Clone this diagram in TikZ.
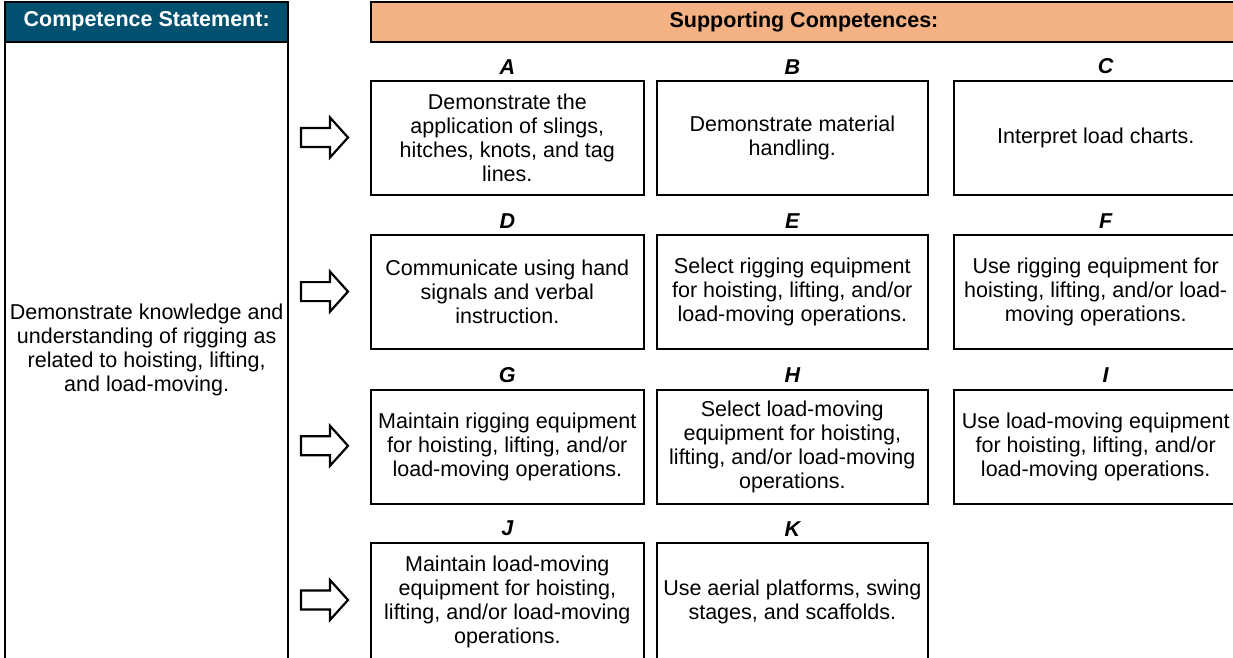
\documentclass[tikz,border=0pt]{standalone}
\usepackage{fontspec}
\setmainfont{Liberation Sans}
\definecolor{headteal}{RGB}{0,80,112}
\definecolor{headorange}{RGB}{244,177,131}
\tikzset{
  cbox/.style={draw, line width=2pt, minimum height=114pt, align=center, inner sep=0pt,
    font=\fontsize{21.5}{24}\selectfont},
  letter/.style={font=\fontsize{21.5}{24}\selectfont\bfseries\itshape, inner sep=2pt, label distance=4pt},
  headbar/.style={draw, line width=2pt, minimum height=40pt, inner sep=0pt,
    font=\fontsize{21.5}{24}\selectfont\bfseries},
  blockarr/.style={draw, line width=2.2pt, miter limit=10}
}
\begin{document}
\begin{tikzpicture}[x=1pt,y=-1pt]
                \useasboundingbox (0,0) rectangle (1233,657);
                \draw[line width=2pt] (5,1.5) rectangle (288.3,680);
                \node[headbar, fill=headteal, text=white, minimum width=283.3pt] (stmthead) at (146.65,21.5) {Competence Statement:};
                \node[align=center, font=\fontsize{21.5}{24}\selectfont] (stmt) at (146.65,350) {Demonstrate knowledge and\\understanding of rigging as\\related to hoisting, lifting,\\and load-moving.};
                \node[headbar, fill=headorange, minimum width=866pt] (supphead) at (804,21.5) {Supporting Competences:};
                \node[cbox, minimum width=272.7pt, label={[letter]above:A}] (A) at (507.3,138.2) {Demonstrate the\\application of slings,\\hitches, knots, and tag\\lines.};
                \node[cbox, minimum width=270.7pt, label={[letter]above:B}] (B) at (792.3,138.2) {Demonstrate material\\handling.};
                \node[cbox, minimum width=284pt, label={[letter, xshift=10pt]above:C}] (C) at (1095.7,138.2) {Interpret load charts.};
                \node[cbox, minimum width=272.7pt, label={[letter]above:D}] (D) at (507.3,292.3) {Communicate using hand\\signals and verbal\\instruction.};
                \node[cbox, minimum width=270.7pt, label={[letter]above:E}] (E) at (792.3,292.3) {Select rigging equipment\\for hoisting, lifting, and/or\\load-moving operations.};
                \node[cbox, minimum width=284pt, label={[letter, xshift=10pt]above:F}] (F) at (1095.7,292.3) {Use rigging equipment for\\hoisting, lifting, and/or load-\\moving operations.};
                \node[cbox, minimum width=272.7pt, label={[letter]above:G}] (G) at (507.3,446.5) {Maintain rigging equipment\\for hoisting, lifting, and/or\\load-moving operations.};
                \node[cbox, minimum width=270.7pt, label={[letter]above:H}] (H) at (792.3,446.5) {Select load-moving\\equipment for hoisting,\\lifting, and/or load-moving\\operations.};
                \node[cbox, minimum width=284pt, label={[letter, xshift=10pt]above:I}] (I) at (1095.7,446.5) {Use load-moving equipment\\for hoisting, lifting, and/or\\load-moving operations.};
                \node[cbox, minimum width=272.7pt, minimum height=118pt, label={[letter]above:J}] (J) at (507.3,602.3) {Maintain load-moving\\equipment for hoisting,\\lifting, and/or load-moving\\operations.};
                \node[cbox, minimum width=270.7pt, minimum height=118pt, label={[letter]above:K}] (K) at (792.3,602.3) {Use aerial platforms, swing\\stages, and scaffolds.};
                \foreach \y in {137.5,291.6,445.8,600}
                  \draw[blockarr] (301,\y-9.5) -- (330,\y-9.5) -- (330,\y-20) -- (348,\y) -- (330,\y+20) -- (330,\y+9.5) -- (301,\y+9.5) -- cycle;
            \end{tikzpicture}
\end{document}
